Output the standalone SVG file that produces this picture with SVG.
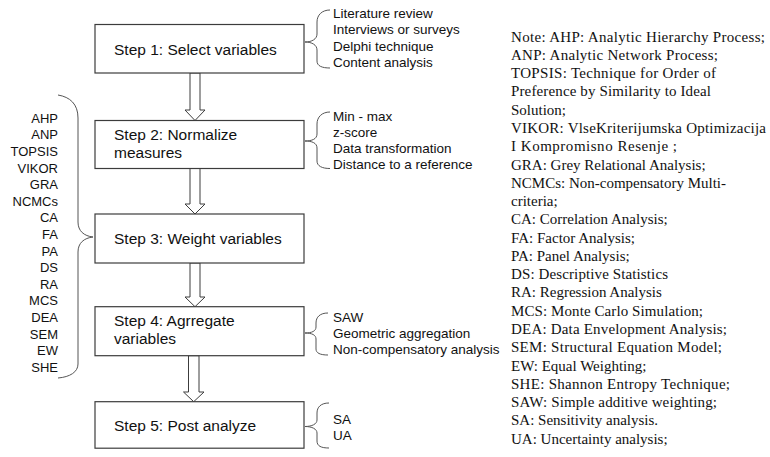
<svg xmlns="http://www.w3.org/2000/svg" width="770" height="457" viewBox="0 0 770 457">
<style>
.box{fill:#fff;stroke:#3c3c3c;stroke-width:1.2}
.step{font-family:"Liberation Sans",Arial,sans-serif;font-size:15.5px;fill:#111}
.item{font-family:"Liberation Sans",Arial,sans-serif;font-size:13.5px;fill:#111}
.left{font-family:"Liberation Sans",Arial,sans-serif;font-size:13px;fill:#111;text-anchor:end}
.note{font-family:"Liberation Serif","Times New Roman",serif;font-size:15px;fill:#111}
.arrow{fill:#fff;stroke:#3c3c3c;stroke-width:1}
.brace{fill:none;stroke:#555;stroke-width:1}
</style>
<rect width="770" height="457" fill="#fff"/>
<g id="connectors">
<path class="arrow" d="M190,73 V110 H185 L195,120.5 L205,110 H200 V73 Z"/>
<path class="arrow" d="M190,168.5 V204 H185 L195,214 L205,204 H200 V168.5 Z"/>
<path class="arrow" d="M190,263 V297 H185 L195,306.7 L205,297 H200 V263 Z"/>
<path class="arrow" d="M188.5,355.7 V392 H183.5 L193.7,401.7 L204,392 H199 V355.7 Z"/>
<path class="brace" d="M58,95 C70,97 78,104 78,118 L78,222 C78,231 84,236 93,237 C84,238 78,243 78,252 L78,364 C78,372 70,377 58,378"/>
<path class="brace" d="M330,10 C322,10 317,15 317,22 L317,34 C317,39 312,42 305,42 C312,42 317,45 317,50 L317,61 C317,66 322,68 330,68"/>
<path class="brace" d="M330,112 C322,112 317,117 317,124 L317,134 C317,139 312,141 305,141 C312,141 317,143 317,148 L317,161 C317,166 322,168.5 330,168.5"/>
<path class="brace" d="M328,313 C320,313 316,317 316,323 L316,327 C316,331 312,333 305,333 C312,333 316,335 316,339 L316,349 C316,353 320,355 328,355"/>
<path class="brace" d="M329,403 C321,403 317,407 317,413 L317,420 C317,424 312,426.5 305,426.5 C312,426.5 317,429 317,433 L317,441 C317,446 321,448 329,448"/>
</g>
<g id="step1">
<rect class="box" x="95" y="24.5" width="209" height="48.5"/>
<text class="step" x="114" y="55">Step 1: Select variables</text>
</g>
<g id="step2">
<rect class="box" x="95" y="120.5" width="209" height="48"/>
<text class="step" x="114" y="140">Step 2: Normalize</text>
<text class="step" x="114" y="158">measures</text>
</g>
<g id="step3">
<rect class="box" x="95" y="214" width="209" height="49"/>
<text class="step" x="114" y="244">Step 3: Weight variables</text>
</g>
<g id="step4">
<rect class="box" x="95" y="306.7" width="209" height="49"/>
<text class="step" x="114" y="326">Step 4: Agrregate</text>
<text class="step" x="114" y="344">variables</text>
</g>
<g id="step5">
<rect class="box" x="95" y="401.7" width="209" height="46.5"/>
<text class="step" x="114" y="430.5">Step 5: Post analyze</text>
</g>
<g id="methods">
<text class="left" x="58" y="122.7">AHP</text>
<text class="left" x="58" y="139.3">ANP</text>
<text class="left" x="58" y="155.9">TOPSIS</text>
<text class="left" x="58" y="172.5">VIKOR</text>
<text class="left" x="58" y="189.1">GRA</text>
<text class="left" x="58" y="205.7">NCMCs</text>
<text class="left" x="58" y="222.3">CA</text>
<text class="left" x="58" y="238.9">FA</text>
<text class="left" x="58" y="255.5">PA</text>
<text class="left" x="58" y="272.1">DS</text>
<text class="left" x="58" y="288.7">RA</text>
<text class="left" x="58" y="305.3">MCS</text>
<text class="left" x="58" y="321.9">DEA</text>
<text class="left" x="58" y="338.5">SEM</text>
<text class="left" x="58" y="355.1">EW</text>
<text class="left" x="58" y="371.7">SHE</text>
</g>
<g id="select-options">
<text class="item" x="333" y="17.5">Literature review</text>
<text class="item" x="333" y="34">Interviews or surveys</text>
<text class="item" x="333" y="50.5">Delphi technique</text>
<text class="item" x="333" y="67">Content analysis</text>
</g>
<g id="normalize-options">
<text class="item" x="333" y="120.5">Min - max</text>
<text class="item" x="333" y="136.8">z-score</text>
<text class="item" x="333" y="153.1">Data transformation</text>
<text class="item" x="333" y="169.4">Distance to a reference</text>
</g>
<g id="aggregate-options">
<text class="item" x="333" y="321.7">SAW</text>
<text class="item" x="333" y="338">Geometric aggregation</text>
<text class="item" x="333" y="353.5">Non-compensatory analysis</text>
</g>
<g id="post-options">
<text class="item" x="333" y="423.5">SA</text>
<text class="item" x="333" y="440">UA</text>
</g>
<g id="note">
<text class="note" x="511" y="41.5" textLength="254" lengthAdjust="spacing">Note: AHP: Analytic Hierarchy Process;</text>
<text class="note" x="511" y="59.8" textLength="207" lengthAdjust="spacing">ANP: Analytic Network Process;</text>
<text class="note" x="511" y="78.1" textLength="205" lengthAdjust="spacing">TOPSIS: Technique for Order of</text>
<text class="note" x="511" y="96.3" textLength="200" lengthAdjust="spacing">Preference by Similarity to Ideal</text>
<text class="note" x="511" y="114.6">Solution;</text>
<text class="note" x="511" y="132.9" textLength="255" lengthAdjust="spacing">VIKOR: VlseKriterijumska Optimizacija</text>
<text class="note" x="511" y="151.2" textLength="166" lengthAdjust="spacing">I Kompromisno Resenje ;</text>
<text class="note" x="511" y="169.5">GRA: Grey Relational Analysis;</text>
<text class="note" x="511" y="187.7">NCMCs: Non-compensatory Multi-</text>
<text class="note" x="511" y="206">criteria;</text>
<text class="note" x="511" y="224.3">CA: Correlation Analysis;</text>
<text class="note" x="511" y="242.6">FA: Factor Analysis;</text>
<text class="note" x="511" y="260.9">PA: Panel Analysis;</text>
<text class="note" x="511" y="279.1" textLength="157" lengthAdjust="spacing">DS: Descriptive Statistics</text>
<text class="note" x="511" y="297.4">RA: Regression Analysis</text>
<text class="note" x="511" y="315.7" textLength="192" lengthAdjust="spacing">MCS: Monte Carlo Simulation;</text>
<text class="note" x="511" y="334" textLength="216" lengthAdjust="spacing">DEA: Data Envelopment Analysis;</text>
<text class="note" x="511" y="352.3" textLength="211" lengthAdjust="spacing">SEM: Structural Equation Model;</text>
<text class="note" x="511" y="370.5">EW: Equal Weighting;</text>
<text class="note" x="511" y="388.8" textLength="219" lengthAdjust="spacing">SHE: Shannon Entropy Technique;</text>
<text class="note" x="511" y="407.1" textLength="206" lengthAdjust="spacing">SAW: Simple additive weighting;</text>
<text class="note" x="511" y="425.4">SA: Sensitivity analysis.</text>
<text class="note" x="511" y="443.7">UA: Uncertainty analysis;</text>
</g>
</svg>
